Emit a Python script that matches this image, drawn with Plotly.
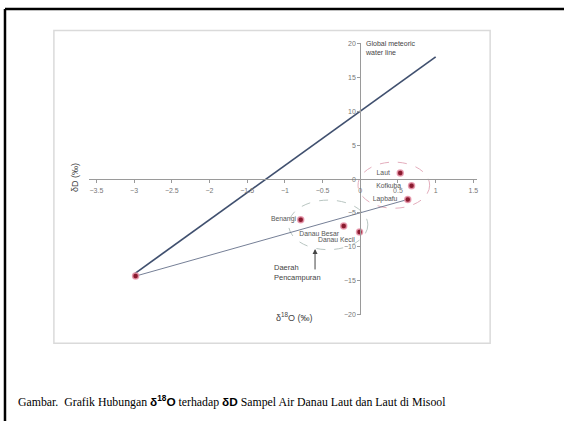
import plotly.graph_objects as go

# Isotope samples (δ18O ‰, δD ‰)
sea_names = ["Laut", "Kofkuba", "Lapbafu"]
sea_d18o = [0.53, 0.68, 0.63]
sea_dd = [0.9, -1.0, -3.0]

lake_names = ["Benangi", "Danau Besar", "Danau Kecil"]
lake_d18o = [-0.79, -0.22, -0.01]
lake_dd = [-6.0, -6.9, -7.8]

rain_d18o = [-2.98]
rain_dd = [-14.3]

# Global meteoric water line: δD = 8·δ18O + 10
gmwl_d18o = [-3.0, 1.0]
gmwl_dd = [8 * v + 10 for v in gmwl_d18o]

# Evaporation trend from the lowest sample to the sea samples
evap_d18o = [rain_d18o[0], sea_d18o[2]]
evap_dd = [rain_dd[0], sea_dd[2]]

x_ticks = [-3.5, -3, -2.5, -2, -1.5, -1, -0.5, 0, 0.5, 1, 1.5]
y_ticks = [-20, -15, -10, -5, 0, 5, 10, 15, 20]

W, H = 565, 424
X_RANGE = [-3.6, 1.55]
Y_RANGE = [-20, 20]
XDOM = [89 / W, 478 / W]
YDOM = [1 - 316 / H, 1 - 40 / H]

# axis crossing positions (paper fractions)
x_axis_pos = YDOM[0] + (YDOM[1] - YDOM[0]) * (0 - Y_RANGE[0]) / (Y_RANGE[1] - Y_RANGE[0])
y_axis_pos = XDOM[0] + (XDOM[1] - XDOM[0]) * (0 - X_RANGE[0]) / (X_RANGE[1] - X_RANGE[0])

POINT = "#8a1a2e"
HALO = "rgba(232,150,172,0.85)"
LABEL_FONT = dict(family="Arial, Liberation Sans", size=6.8, color="#555")

fig = go.Figure()

fig.add_trace(go.Scatter(x=gmwl_d18o, y=gmwl_dd, mode="lines",
                         line=dict(color="#40506f", width=1.7),
                         showlegend=False, hoverinfo="skip"))
fig.add_trace(go.Scatter(x=evap_d18o, y=evap_dd, mode="lines",
                         line=dict(color="#65708a", width=0.9),
                         showlegend=False, hoverinfo="skip"))

marker = dict(color=POINT, size=6, line=dict(color=HALO, width=1.5))
fig.add_trace(go.Scatter(x=sea_d18o, y=sea_dd, mode="markers+text",
                         text=[n + "   " for n in sea_names],
                         textposition="middle left",
                         textfont=LABEL_FONT, marker=marker,
                         showlegend=False, cliponaxis=False))
fig.add_trace(go.Scatter(x=lake_d18o, y=lake_dd, mode="markers+text",
                         text=lake_names,
                         textposition=["middle left", "bottom left", "bottom left"],
                         textfont=LABEL_FONT, marker=marker,
                         showlegend=False, cliponaxis=False))
fig.add_trace(go.Scatter(x=rain_d18o, y=rain_dd, mode="markers",
                         marker=marker, showlegend=False, cliponaxis=False))


def group_ellipse(xs, ys, pad_l, pad_r, pad_b, pad_t, color):
    return dict(type="circle", xref="x", yref="y",
                x0=min(xs) - pad_l, x1=max(xs) + pad_r,
                y0=min(ys) - pad_b, y1=max(ys) + pad_t,
                line=dict(color=color, width=1, dash="dash"), layer="below")


shapes = [
    group_ellipse(sea_d18o, sea_dd, 0.56, 0.24, 1.3, 1.6, "#e4aebd"),
    group_ellipse(lake_d18o, lake_dd, 0.16, 0.11, 2.6, 2.9, "#b9c6c2"),
    # chart panel
    dict(type="rect", xref="paper", yref="paper",
         x0=54 / W, x1=491 / W, y0=1 - 345 / H, y1=1 - 27 / H,
         line=dict(color="#dadada", width=1.5), layer="below"),
    # page frame
    dict(type="line", xref="paper", yref="paper", x0=5 / W, x1=5 / W,
         y0=0, y1=1 - 5 / H, line=dict(color="#000", width=2.5)),
    dict(type="line", xref="paper", yref="paper", x0=5 / W, x1=1,
         y0=1 - 5 / H, y1=1 - 5 / H, line=dict(color="#000", width=2.5)),
]

annotations = [
    dict(text="Global meteoric<br>water line", xref="x", yref="y",
         x=0.03, y=19.3, xanchor="left", yanchor="middle", align="left",
         showarrow=False, font=dict(family="Arial", size=7, color="#444")),
    dict(text="Daerah<br>Pencampuran", xref="x", yref="y",
         x=-1.17, y=-13.8, xanchor="left", yanchor="middle", align="left",
         showarrow=False, font=dict(family="Arial", size=7.5, color="#444")),
    dict(text="", xref="x", yref="y", x=-0.6, y=-10.3, ax=0, ay=22,
         showarrow=True, arrowhead=2, arrowsize=1, arrowwidth=1,
         arrowcolor="#444"),
    dict(text="δ<sup>18</sup>O (‰)", xref="paper", yref="paper",
         x=295 / W, y=1 - 326 / H, showarrow=False,
         font=dict(family="Arial", size=9, color="#444")),
    dict(text="δD (‰)", xref="paper", yref="paper", textangle=-90,
         x=68 / W, y=1 - 176 / H, showarrow=False,
         font=dict(family="Arial", size=9, color="#444")),
    dict(text=("Gambar.  Grafik Hubungan "
               "<span style=\"font-family:Arial\"><b>δ<sup>18</sup>O</b></span>"
               " terhadap "
               "<span style=\"font-family:Arial\"><b>δD</b></span>"
               " Sampel Air Danau Laut dan Laut di Misool"),
         xref="paper", yref="paper", x=16 / W, y=1 - 404 / H,
         xanchor="left", yanchor="middle", showarrow=False,
         font=dict(family="Liberation Serif, Times New Roman", size=11.8,
                   color="#000")),
]

axis_common = dict(showgrid=False, zeroline=False, showline=True,
                   linecolor="#9a9a9a", linewidth=1, ticks="outside",
                   ticklen=3, tickcolor="#9a9a9a",
                   tickfont=dict(family="Arial", size=7, color="#777"))

fig.update_layout(
    width=W, height=H,
    margin=dict(l=0, r=0, t=0, b=0),
    paper_bgcolor="white", plot_bgcolor="rgba(0,0,0,0)",
    showlegend=False,
    xaxis=dict(range=X_RANGE, domain=XDOM, anchor="free",
               position=x_axis_pos, tickvals=x_ticks,
               ticklabelstandoff=2, **axis_common),
    yaxis=dict(range=Y_RANGE, domain=YDOM, anchor="free",
               position=y_axis_pos, tickvals=y_ticks, **axis_common),
    shapes=shapes,
    annotations=annotations,
)

fig.write_html("out.html")
